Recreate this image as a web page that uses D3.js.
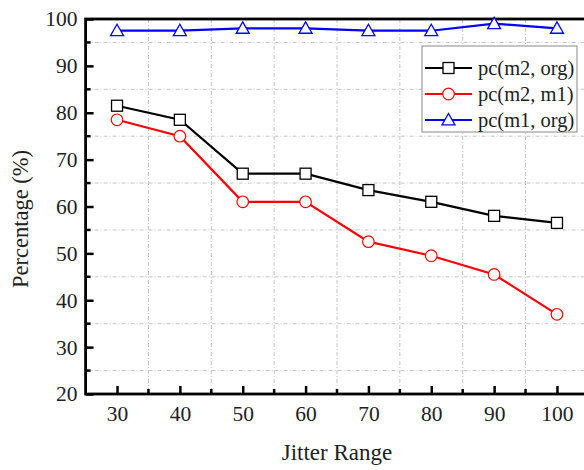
<!DOCTYPE html>
<html>
<head>
<meta charset="utf-8">
<script src="https://cdn.jsdelivr.net/npm/d3@7"></script>
<style>
  html, body { margin: 0; padding: 0; background: #fff; }
  svg { display: block; }
</style>
</head>
<body>
<svg id="chart" width="584" height="470"></svg>
<script>
const jitter = [30, 40, 50, 60, 70, 80, 90, 100];
const pcM2Org = [81.5, 78.5, 67, 67, 63.5, 61, 58, 56.5];
const pcM2M1  = [78.5, 75, 61, 61, 52.5, 49.5, 45.5, 37];
const pcM1Org = [97.5, 97.5, 98, 98, 97.5, 97.5, 99, 98];
const seriesNames = ["pc(m2, org)", "pc(m2, m1)", "pc(m1, org)"];
const xMajorTicks = [30, 40, 50, 60, 70, 80, 90, 100];
const xMinorTicks = [35, 45, 55, 65, 75, 85, 95];
const yMajorTicks = [20, 30, 40, 50, 60, 70, 80, 90, 100];
const yMinorTicks = [25, 35, 45, 55, 65, 75, 85, 95];

(function () {
const svg = d3.select("#chart");
const font = "Liberation Serif";

const x = d3.scaleLinear().domain([25, 105]).range([85.6, 588.4]);
const y = d3.scaleLinear().domain([20, 100]).range([394, 19]);

const pLeft = x(25), pRight = x(105), pTop = y(100), pBottom = y(20);

// grid
const grid = svg.append("g").attr("stroke", "#c4c4c4").attr("stroke-width", 1)
  .attr("stroke-dasharray", "4,2,1,2");
xMinorTicks.forEach(v => grid.append("line")
  .attr("x1", x(v)).attr("x2", x(v)).attr("y1", pTop).attr("y2", pBottom));
yMinorTicks.forEach(v => grid.append("line")
  .attr("x1", pLeft).attr("x2", pRight).attr("y1", y(v)).attr("y2", y(v)));

function styleText(sel, size) {
  sel.attr("font-family", font).attr("font-size", size).attr("fill", "#222");
}

// axes (ticks inward)
const yAxis = d3.axisLeft(y).tickValues(yMajorTicks).tickSizeInner(-8).tickSizeOuter(0).tickPadding(8);
const gy = svg.append("g").attr("transform", `translate(${pLeft},0)`).call(yAxis);
gy.attr("font-family", font).attr("font-size", 21.5);
styleText(gy.selectAll("text"), 21.5);
gy.selectAll(".tick line").attr("stroke", "#000").attr("stroke-width", 2.5);
gy.select(".domain").remove();
yMinorTicks.forEach(v => svg.append("line").attr("x1", pLeft).attr("x2", pLeft + 5)
  .attr("y1", y(v)).attr("y2", y(v)).attr("stroke", "#000").attr("stroke-width", 2.5));

const xAxis = d3.axisBottom(x).tickValues(xMajorTicks).tickSizeInner(-8).tickSizeOuter(0).tickPadding(12);
const gx = svg.append("g").attr("transform", `translate(0,${pBottom})`).call(xAxis);
gx.attr("font-family", font).attr("font-size", 21.5);
styleText(gx.selectAll("text"), 21.5);
gx.selectAll(".tick line").attr("stroke", "#000").attr("stroke-width", 2.5);
gx.select(".domain").remove();
xMinorTicks.forEach(v => svg.append("line").attr("x1", x(v)).attr("x2", x(v))
  .attr("y1", pBottom).attr("y2", pBottom - 5).attr("stroke", "#000").attr("stroke-width", 2.5));

// frame
svg.append("rect").attr("x", pLeft).attr("y", pTop).attr("width", pRight - pLeft).attr("height", pBottom - pTop)
  .attr("fill", "none").attr("stroke", "#000").attr("stroke-width", 2.8);

// axis titles
styleText(svg.append("text").attr("x", x(65)).attr("y", 460).attr("text-anchor", "middle")
  .text("Jitter Range"), 23);
styleText(svg.append("text").attr("transform", "translate(28,219) rotate(-90)")
  .attr("text-anchor", "middle").text("Percentage (%)"), 22.5);

// series
const series = [
  { name: seriesNames[0], values: pcM2Org, color: "#000000", marker: "square", fill: "#ffffff" },
  { name: seriesNames[1], values: pcM2M1, color: "#ff0000", marker: "circle", fill: "#ffffff" },
  { name: seriesNames[2], values: pcM1Org, color: "#0000ff", marker: "triangle", fill: "#ffffff" }
];

const line = d3.line().x(d => x(d[0])).y(d => y(d[1]));

function drawMarker(g, type, cx, cy, color, fill) {
  if (type === "square") {
    g.append("rect").attr("x", cx - 5.5).attr("y", cy - 5.5).attr("width", 11).attr("height", 11)
      .attr("fill", fill).attr("stroke", color).attr("stroke-width", 1.3);
  } else if (type === "circle") {
    g.append("circle").attr("cx", cx).attr("cy", cy).attr("r", 5.8)
      .attr("fill", fill).attr("stroke", color).attr("stroke-width", 1.2);
  } else {
    const s = 6.5;
    g.append("path").attr("d", `M${cx},${cy - s}L${cx + s},${cy + s * 0.75}L${cx - s},${cy + s * 0.75}Z`)
      .attr("fill", fill).attr("stroke", color).attr("stroke-width", 1.3);
  }
}

series.forEach(s => {
  const pts = jitter.map((j, i) => [j, s.values[i]]);
  svg.append("path").attr("d", line(pts)).attr("fill", "none")
    .attr("stroke", s.color).attr("stroke-width", 2.2);
  const g = svg.append("g");
  pts.forEach(p => drawMarker(g, s.marker, x(p[0]), y(p[1]), s.color, s.fill));
});

// legend
const lg = svg.append("g");
lg.append("rect").attr("x", 422).attr("y", 46).attr("width", 155).attr("height", 86)
  .attr("fill", "#fff").attr("stroke", "#888").attr("stroke-width", 1);
series.forEach((s, i) => {
  const ly = 68 + i * 26;
  lg.append("line").attr("x1", 425).attr("x2", 472).attr("y1", ly).attr("y2", ly)
    .attr("stroke", s.color).attr("stroke-width", 2.2);
  drawMarker(lg, s.marker, 448.5, ly, s.color, s.fill);
  styleText(lg.append("text").attr("x", 478).attr("y", ly + 7).text(s.name), 20.5);
});
})();
</script>
</body>
</html>
